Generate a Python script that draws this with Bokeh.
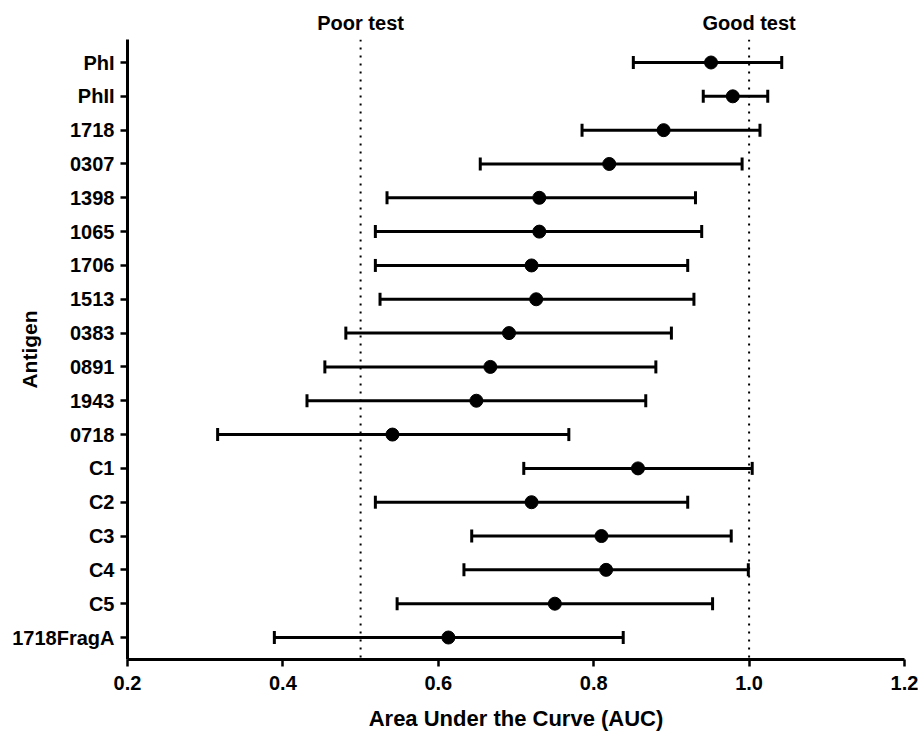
from bokeh.plotting import figure
from bokeh.models import (ColumnDataSource, Range1d, FixedTicker, Whisker, TeeHead,
                          Span, PrintfTickFormatter, LinearAxis)
from bokeh.embed import file_html
from bokeh.resources import INLINE

antigens = ["PhI", "PhII", "1718", "0307", "1398", "1065", "1706", "1513", "0383",
            "0891", "1943", "0718", "C1", "C2", "C3", "C4", "C5", "1718FragA"]
auc = [0.951, 0.979, 0.890, 0.820, 0.730, 0.730, 0.720, 0.726, 0.691,
       0.667, 0.649, 0.541, 0.857, 0.720, 0.810, 0.816, 0.750, 0.613]
ci_low = [0.851, 0.941, 0.785, 0.654, 0.534, 0.519, 0.519, 0.525, 0.481,
          0.454, 0.431, 0.316, 0.710, 0.519, 0.643, 0.633, 0.547, 0.389]
ci_high = [1.042, 1.024, 1.014, 0.991, 0.931, 0.939, 0.921, 0.929, 0.900,
           0.880, 0.867, 0.768, 1.004, 0.921, 0.977, 0.999, 0.953, 0.838]
x_ticks = [0.2, 0.4, 0.6, 0.8, 1.0, 1.2]
ref_lines = [0.5, 1.0]
ref_labels = ["Poor test", "Good test"]

FONT = "Liberation Sans"
pos = list(range(len(antigens)))
src = ColumnDataSource(dict(y=pos, auc=auc, lo=ci_low, hi=ci_high))

p = figure(width=918, height=734, output_backend="svg", toolbar_location=None,
           x_range=Range1d(0.2, 1.2), y_range=Range1d(17.65, -0.68),
           min_border_left=127, min_border_top=39, min_border_right=14,
           min_border_bottom=75)
p.outline_line_color = None
p.xgrid.visible = False
p.ygrid.visible = False
p.background_fill_color = "white"
p.border_fill_color = "white"

xa = p.below[0]
ya = p.left[0]

for loc in ref_lines:
    p.add_layout(Span(location=loc, dimension="height", line_color="black",
                      line_width=2, line_dash="2 6"))

w = Whisker(source=src, base="y", lower="lo", upper="hi", dimension="width",
            line_width=3, line_color="black",
            lower_head=TeeHead(size=13, line_width=3, line_color="black"),
            upper_head=TeeHead(size=13, line_width=3, line_color="black"))
p.add_layout(w)
p.scatter("auc", "y", source=src, size=13, color="black")

# reference-line captions as a bare axis above the plot
top = LinearAxis(ticker=FixedTicker(ticks=ref_lines),
                 major_label_overrides={v: t for v, t in zip(ref_lines, ref_labels)})
top.axis_line_color = None
top.major_tick_line_color = None
top.minor_tick_line_color = None
top.major_tick_in = 0
top.major_tick_out = 0
top.major_label_standoff = 6
top.major_label_text_font = FONT
top.major_label_text_font_style = "bold"
top.major_label_text_font_size = "20px"
top.major_label_text_color = "black"
p.add_layout(top, "above")

# x axis
xa.ticker = FixedTicker(ticks=x_ticks)
xa.formatter = PrintfTickFormatter(format="%.1f")
xa.axis_label = "Area Under the Curve (AUC)"
# y axis
ya.ticker = FixedTicker(ticks=pos)
ya.major_label_overrides = {i: n for i, n in enumerate(antigens)}
ya.axis_label = "Antigen"

for ax in (xa, ya):
    ax.axis_line_width = 3
    ax.axis_line_color = "black"
    ax.major_tick_line_width = 2.5
    ax.major_tick_line_color = "black"
    ax.major_tick_in = 0
    ax.major_tick_out = 7
    ax.minor_tick_line_color = None
    ax.major_label_text_font = FONT
    ax.major_label_text_font_style = "bold"
    ax.major_label_text_font_size = "20px"
    ax.major_label_text_color = "black"
    ax.axis_label_text_font = FONT
    ax.axis_label_text_font_style = "bold"
    ax.axis_label_text_font_size = "22px"
    ax.axis_label_text_color = "black"
xa.major_label_standoff = 9
xa.axis_label_standoff = 13
ya.major_label_standoff = 6
ya.axis_label_text_font_size = "21px"
ya.axis_label_standoff = -32

open("out.html", "w").write(file_html(p, INLINE))
